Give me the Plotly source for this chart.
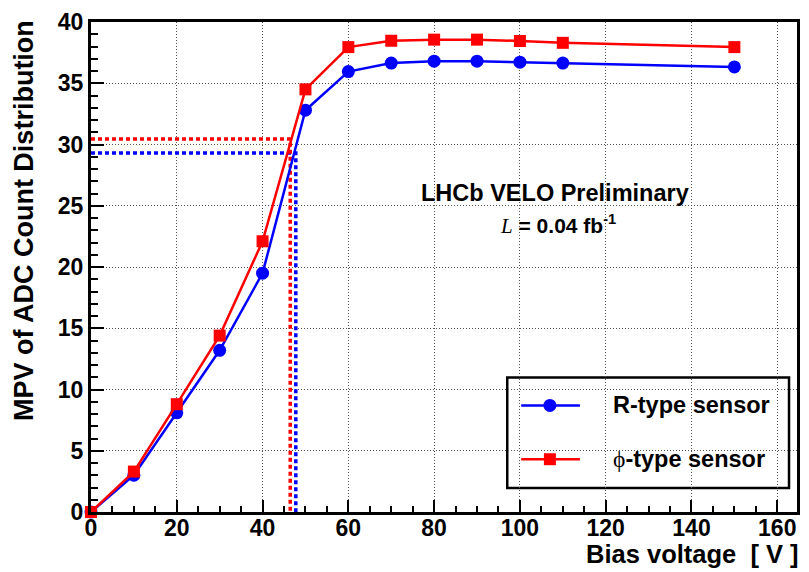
import plotly.graph_objects as go

# ---- data ----
bias_v = [0, 10, 20, 30, 40, 50, 60, 70, 80, 90, 100, 110, 150]
r_type = [0.0, 3.0, 8.1, 13.2, 19.5, 32.8, 35.95, 36.65, 36.8, 36.8, 36.72, 36.65, 36.33]
phi_type = [0.0, 3.3, 8.8, 14.4, 22.1, 34.5, 37.95, 38.47, 38.56, 38.56, 38.45, 38.3, 37.95]

# depletion markers (dashed guide lines)
r_guide_x = [0, 47.75, 47.75]
r_guide_y = [29.3, 29.3, 0]
phi_guide_x = [0, 46.45, 46.45]
phi_guide_y = [30.45, 30.45, 0]

x_ticks = [0, 20, 40, 60, 80, 100, 120, 140, 160]
y_ticks = [0, 5, 10, 15, 20, 25, 30, 35, 40]

BLUE = "#0000ff"
RED = "#ff0000"
FONT = "Liberation Sans, Arial, Helvetica, sans-serif"

fig = go.Figure()

fig.add_trace(go.Scatter(x=r_guide_x, y=r_guide_y, mode="lines",
                         line=dict(color=BLUE, width=3.5, dash="4px,3px"),
                         showlegend=False, hoverinfo="skip"))
fig.add_trace(go.Scatter(x=phi_guide_x, y=phi_guide_y, mode="lines",
                         line=dict(color=RED, width=3.5, dash="4px,3px"),
                         showlegend=False, hoverinfo="skip"))

fig.add_trace(go.Scatter(x=bias_v, y=r_type, mode="lines+markers", name="R-type sensor",
                         line=dict(color=BLUE, width=2.5),
                         marker=dict(symbol="circle", size=13, color=BLUE),
                         showlegend=False, cliponaxis=False))
fig.add_trace(go.Scatter(x=bias_v, y=phi_type, mode="lines+markers", name="ϕ-type sensor",
                         line=dict(color=RED, width=2.5),
                         marker=dict(symbol="square", size=12, color=RED),
                         showlegend=False, cliponaxis=False))

# ---- manual legend (paper-like overlay axes) ----
leg_x0, leg_x1, leg_y0, leg_y1 = 0.5896, 0.9887, 0.0488, 0.2744
row_y = [0.2175, 0.1077]
key_x0, key_x1, key_xm = 0.6093, 0.6925, 0.650
text_x = 0.737

fig.add_shape(type="rect", xref="paper", yref="paper",
              x0=leg_x0, x1=leg_x1, y0=leg_y0, y1=leg_y1,
              line=dict(color="black", width=2.5), fillcolor="white", layer="between")
for yy, col in zip(row_y, [BLUE, RED]):
    fig.add_shape(type="line", xref="paper", yref="paper",
                  x0=key_x0, x1=key_x1, y0=yy, y1=yy,
                  line=dict(color=col, width=2.5), layer="between")

fig.add_trace(go.Scatter(x=[key_xm], y=[row_y[0]], xaxis="x2", yaxis="y2", mode="markers",
                         marker=dict(symbol="circle", size=13, color=BLUE),
                         showlegend=False, hoverinfo="skip"))
fig.add_trace(go.Scatter(x=[key_xm], y=[row_y[1]], xaxis="x2", yaxis="y2", mode="markers",
                         marker=dict(symbol="square", size=12, color=RED),
                         showlegend=False, hoverinfo="skip"))

fig.add_annotation(xref="paper", yref="paper", x=text_x, y=row_y[0], xanchor="left", yanchor="middle",
                   text="<b>R-type sensor</b>", showarrow=False,
                   font=dict(family=FONT, size=23.5, color="black"))
fig.add_annotation(xref="paper", yref="paper", x=text_x, y=row_y[1], xanchor="left", yanchor="middle",
                   text="<span style='font-family:Liberation Serif'>ϕ</span><b>-type sensor</b>",
                   showarrow=False, font=dict(family=FONT, size=23.5, color="black"))

# ---- labels ----
fig.add_annotation(xref="paper", yref="paper", x=0.657, y=0.651, xanchor="center", yanchor="middle",
                   text="<b>LHCb VELO Preliminary</b>", showarrow=False,
                   font=dict(family=FONT, size=23.5, color="black"))
fig.add_annotation(xref="paper", yref="paper", x=0.661, y=0.587, xanchor="center", yanchor="middle",
                   text="<span style='font-family:Liberation Serif'><i>L</i></span><b> = 0.04 fb<sup>-1</sup></b>",
                   showarrow=False, font=dict(family=FONT, size=21, color="black"))

fig.add_annotation(xref="paper", yref="paper", x=1.0, y=-0.0865, xanchor="right", yanchor="middle",
                   xshift=3, borderpad=0,
                   text="<b>Bias voltage  [ V ]</b>", showarrow=False,
                   font=dict(family=FONT, size=25.5, color="black"))
fig.add_annotation(xref="paper", yref="paper", x=-0.094, y=0.595, xanchor="center", yanchor="middle",
                   text="<b>MPV of ADC Count Distribution</b>", textangle=-90, showarrow=False,
                   font=dict(family=FONT, size=27, color="black"))

grid_style = dict(showgrid=True, gridcolor="#555555", gridwidth=1, griddash="1px,2px")

fig.update_layout(
    width=809, height=572,
    margin=dict(l=91, r=9, t=20, b=60),
    paper_bgcolor="white", plot_bgcolor="white",
    font=dict(family=FONT, color="black"),
    showlegend=False,
    xaxis=dict(range=[0, 164.6], tickvals=x_ticks, ticktext=[f"<b>{v}</b>" for v in x_ticks],
               ticks="inside", ticklen=12, tickwidth=1.5, tickcolor="black", ticklabelstandoff=-7,
               minor=dict(ticks="inside", ticklen=6, dtick=5, tickcolor="black", tickwidth=1.5, showgrid=False),
               showline=True, linecolor="black", linewidth=3, mirror=True,
               zeroline=False, tickfont=dict(family=FONT, size=23, color="black"),
               **grid_style),
    yaxis=dict(range=[0, 40], tickvals=y_ticks, ticktext=[f"<b>{v}</b>" for v in y_ticks],
               ticks="inside", ticklen=13, tickwidth=1.5, tickcolor="black",
               minor=dict(ticks="inside", ticklen=7, dtick=1, tickcolor="black", tickwidth=1.5, showgrid=False),
               showline=True, linecolor="black", linewidth=3, mirror=True,
               zeroline=False, tickfont=dict(family=FONT, size=23, color="black"),
               **grid_style),
    xaxis2=dict(range=[0, 1], overlaying="x", visible=False, domain=[0, 1]),
    yaxis2=dict(range=[0, 1], overlaying="y", visible=False, domain=[0, 1]),
)

fig.write_html("out.html")
